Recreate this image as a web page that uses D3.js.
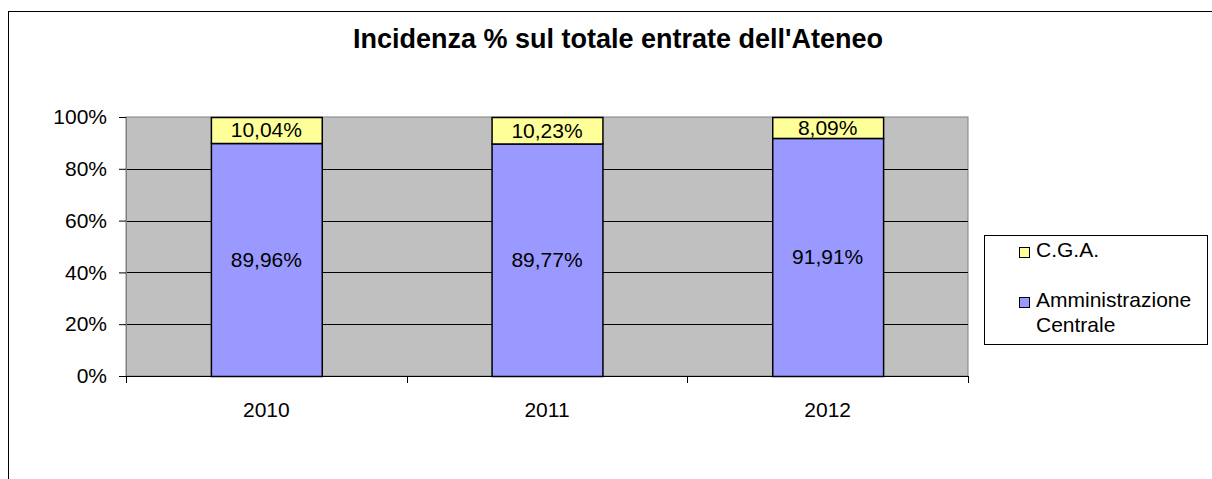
<!DOCTYPE html>
<html>
<head>
<meta charset="utf-8">
<script src="https://cdn.jsdelivr.net/npm/d3@7"></script>
<style>
  body { margin: 0; background: #fff; }
  svg { display: block; font-family: "Liberation Sans", Arial, sans-serif; }
</style>
</head>
<body>
<svg id="chart" width="1212" height="479"></svg>
<script>
// data
const years = ['2010', '2011', '2012'];
const centrale = [89.96, 89.77, 91.91];
const cga = [10.04, 10.23, 8.09];
const yTicks = [0, 20, 40, 60, 80, 100];
const seriesNames = ['C.G.A.', 'Amministrazione Centrale'];
const seriesColors = ['#FFFF99', '#9999FF'];

const svg = d3.select('#chart');
const fmt = v => v.toFixed(2).replace('.', ',') + '%';
const fs = 21;

// outer chart frame (runs off the right and bottom edge)
svg.append('rect')
    .attr('x', 8.5).attr('y', 11.5)
    .attr('width', 1300).attr('height', 600)
    .attr('fill', 'none').attr('stroke', '#000');

svg.append('text')
    .attr('x', 618).attr('y', 48)
    .attr('text-anchor', 'middle')
    .attr('font-size', 27).attr('font-weight', 'bold')
    .text("Incidenza % sul totale entrate dell'Ateneo");

const plot = {left: 126, right: 968, top: 117, bottom: 376};

const x = d3.scaleBand()
    .domain(years)
    .range([plot.left, plot.right])
    .paddingInner(0.605)
    .paddingOuter(0.3025);

const xCat = d3.scaleBand().domain(years).range([plot.left, plot.right]);

const y = d3.scaleLinear()
    .domain([0, 100])
    .range([plot.bottom, plot.top]);

// plot background
svg.append('rect')
    .attr('x', plot.left).attr('y', plot.top)
    .attr('width', plot.right - plot.left).attr('height', plot.bottom - plot.top)
    .attr('fill', '#C0C0C0').attr('stroke', '#808080');

// gridlines
svg.append('g')
  .selectAll('line')
  .data(yTicks.filter(t => t > 0 && t < 100))
  .join('line')
    .attr('x1', plot.left).attr('x2', plot.right)
    .attr('y1', d => Math.round(y(d)) + 0.5).attr('y2', d => Math.round(y(d)) + 0.5)
    .attr('stroke', '#000');

// y axis
const yAxis = d3.axisLeft(y)
    .tickValues(yTicks)
    .tickFormat(d => d + '%')
    .tickSize(7)
    .tickPadding(12);

svg.append('g')
    .attr('transform', `translate(${plot.left},0)`)
    .call(yAxis)
    .call(g => g.select('.domain').attr('stroke', '#808080'))
    .call(g => g.selectAll('.tick line').attr('stroke', '#000'))
    .call(g => g.selectAll('text').attr('font-size', fs).attr('font-family', null).attr('fill', '#000'));

// x axis with ticks at category boundaries
const bounds = years.map(d => xCat(d)).concat([plot.right]);
svg.append('line')
    .attr('x1', plot.left).attr('x2', plot.right)
    .attr('y1', plot.bottom + 0.5).attr('y2', plot.bottom + 0.5)
    .attr('stroke', '#000');
svg.append('g').selectAll('line')
  .data(bounds)
  .join('line')
    .attr('x1', d => Math.round(d) + 0.5).attr('x2', d => Math.round(d) + 0.5)
    .attr('y1', plot.bottom).attr('y2', plot.bottom + 7)
    .attr('stroke', '#000');
svg.append('g').selectAll('text')
  .data(years)
  .join('text')
    .attr('x', d => xCat(d) + xCat.bandwidth() / 2)
    .attr('y', 417)
    .attr('text-anchor', 'middle')
    .attr('font-size', fs)
    .text(d => d);

// stacked bars
const rows = years.map((yr, i) => ({year: yr, centrale: centrale[i], cga: cga[i]}));
const stack = d3.stack().keys(['centrale', 'cga'])(rows);
const colorOf = {centrale: seriesColors[1], cga: seriesColors[0]};

const layers = svg.append('g').selectAll('g')
  .data(stack)
  .join('g')
    .attr('fill', d => colorOf[d.key]);

layers.selectAll('rect')
  .data(d => d)
  .join('rect')
    .attr('x', d => x(d.data.year) + 0.5)
    .attr('y', d => y(d[1]) + 0.5)
    .attr('width', x.bandwidth())
    .attr('height', d => y(d[0]) - y(d[1]))
    .attr('stroke', '#000')
    .attr('stroke-width', 1.5);

layers.selectAll('text')
  .data(d => d.map(p => ({p, key: d.key})))
  .join('text')
    .attr('x', d => x(d.p.data.year) + x.bandwidth() / 2)
    .attr('y', d => (y(d.p[0]) + y(d.p[1])) / 2)
    .attr('dy', '0.35em')
    .attr('text-anchor', 'middle')
    .attr('font-size', fs)
    .attr('fill', '#000')
    .text(d => fmt(d.p.data[d.key]));

// legend
const legend = svg.append('g');
legend.append('rect')
    .attr('x', 984.5).attr('y', 235.5)
    .attr('width', 223).attr('height', 109)
    .attr('fill', '#fff').attr('stroke', '#000');

const items = [
  {lines: [seriesNames[0]], color: seriesColors[0], y: 257},
  {lines: ['Amministrazione', 'Centrale'], color: seriesColors[1], y: 307}
];
items.forEach(it => {
  legend.append('rect')
      .attr('x', 1019.5).attr('y', it.y - 9.5)
      .attr('width', 10).attr('height', 10)
      .attr('fill', it.color).attr('stroke', '#000');
  const t = legend.append('text')
      .attr('x', 1036).attr('y', it.y)
      .attr('font-size', fs);
  it.lines.forEach((ln, j) => {
    t.append('tspan')
        .attr('x', 1036)
        .attr('dy', j === 0 ? 0 : 25)
        .text(ln);
  });
});
</script>
</body>
</html>
